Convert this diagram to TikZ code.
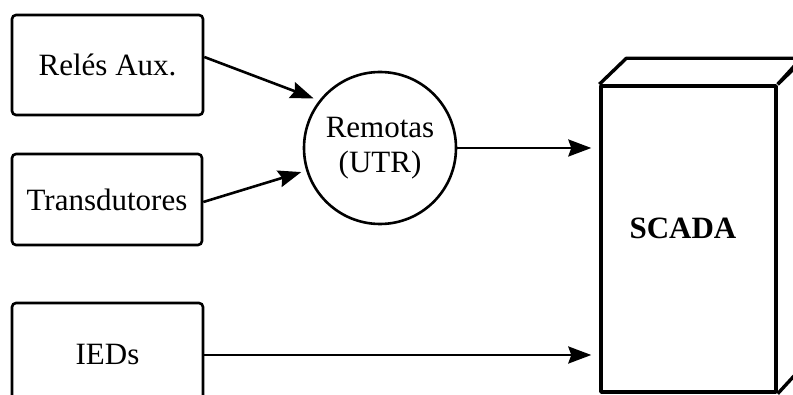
\documentclass[tikz,border=0pt]{standalone}
\usepackage{fontspec}
\setmainfont{Liberation Serif}
\usetikzlibrary{arrows.meta,calc}

\tikzset{
  lbl/.style={font=\fontsize{31}{35}\selectfont},
  srcbox/.style={draw, line width=2.6pt, rounded corners=4pt, rectangle, lbl},
  hub/.style={draw, line width=2.6pt, circle, minimum size=152pt, inner sep=0pt, lbl, align=center},
  cab/.style={draw, line width=3.4pt, line join=round},
  feed/.style={line width=2.6pt, -{Stealth[length=23pt,width=17pt,inset=3pt]}}
}

\begin{document}
\begin{tikzpicture}[x=1pt,y=-1pt]
  \useasboundingbox (0,0) rectangle (793,395);
  \clip (0,0) rectangle (793,395);

  % input devices
  \node[srcbox, minimum width=191pt, minimum height=100pt] (rel) at (107.5,65) {Relés Aux.};
  \node[srcbox, minimum width=190pt, minimum height=91pt] (trans) at (107,199.5) {Transdutores};
  \node[srcbox, minimum width=191pt, minimum height=104pt] (ied) at (107.5,355) {IEDs};

  % remote terminal unit
  \node[hub] (utr) at (380,148) {Remotas\\(UTR)};

  % SCADA cabinet: front face, top face and side face
  \node[cab, rectangle, minimum width=175pt, minimum height=306pt, inner sep=0pt] (scada) at (688.5,239) {};
  \draw[cab] (scada.north west) -- ++(27,-26) -- ++(175,0) -- (scada.north east);
  \draw[cab] (scada.north east) -- ++(27,-26) -- ++(0,306) -- (scada.south east);
  \node[font=\bfseries\fontsize{31}{35}\selectfont] (scadatxt) at (683,228) {SCADA};

  % connections
  \draw[feed, shorten >=6pt] ([yshift=8pt]rel.east) -- (utr.142);
  \draw[feed, shorten >=5pt] ([yshift=-2.5pt]trans.east) -- (utr.197);
  \draw[feed, shorten >=8pt] (utr.east) -- (utr.east -| scada.west);
  \draw[feed, shorten >=8pt] (ied.east) -- (ied.east -| scada.west);
\end{tikzpicture}
\end{document}
